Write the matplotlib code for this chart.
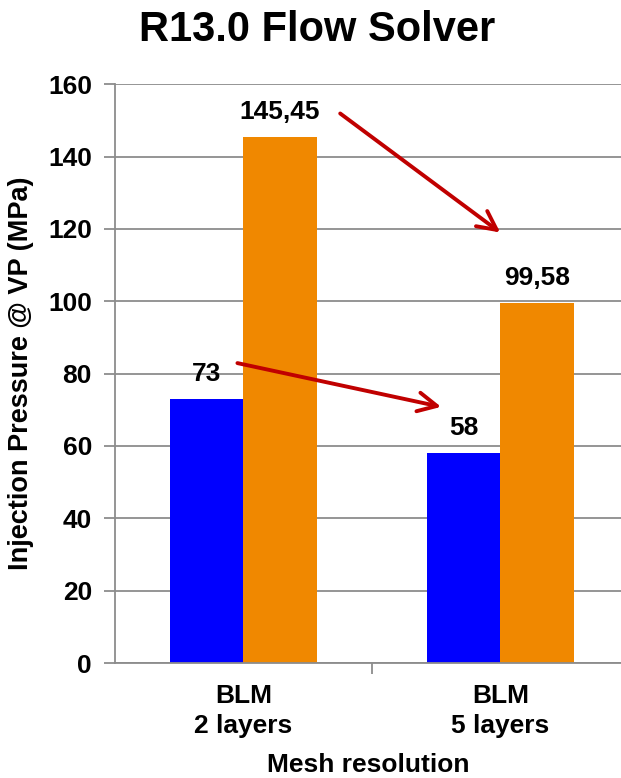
import matplotlib.pyplot as plt
import numpy as np

plt.rcParams['font.family'] = ['Liberation Sans', 'DejaVu Sans']
plt.rcParams['font.weight'] = 'bold'

meshes = ['BLM\n2 layers', 'BLM\n5 layers']
series_a = [73, 58]
series_b = [145.45, 99.58]
labels_a = ['73', '58']
labels_b = ['145,45', '99,58']

fig = plt.figure(figsize=(6.21, 7.78), dpi=100)
ax = fig.add_axes([0.185, 0.1478, 0.815, 0.744])

x = np.arange(len(meshes))
w = 0.286
bars_a = ax.bar(x - w / 2, series_a, w, color='#0000ff', zorder=2)
bars_b = ax.bar(x + w / 2, series_b, w, color='#f08800', zorder=2)

for bars, labels in [(bars_a, labels_a), (bars_b, labels_b)]:
    for b, t in zip(bars, labels):
        ax.annotate(t, (b.get_x() + b.get_width() / 2, b.get_height()),
                    xytext=(0, 13), textcoords='offset points', ha='center',
                    va='baseline', fontsize=19, fontweight='bold')

# trend arrows between the two meshes
arrow = dict(arrowstyle='->', color='#c00000', lw=2.8, mutation_scale=34,
             shrinkA=0, shrinkB=0)
ax.annotate('', xy=(1.0, 119.0), xytext=(0.377, 151.9), arrowprops=arrow)
ax.annotate('', xy=(0.77, 70.8), xytext=(-0.023, 82.9), arrowprops=arrow)

ax.set_ylim(0, 160)
ax.set_xlim(-0.5, 1.47)
ax.set_yticks(np.arange(0, 161, 20))
ax.yaxis.grid(True, color='#8c8c8c', lw=1.3, zorder=0)
ax.set_axisbelow(True)

ax.set_xticks([0.5], minor=True)
ax.set_xticks(x)
ax.set_xticklabels(meshes, fontsize=19, fontweight='bold', linespacing=1.3)
ax.tick_params(axis='x', which='major', length=0, pad=15)
ax.tick_params(axis='x', which='minor', length=8, width=1.3, color='#8c8c8c')
ax.tick_params(axis='y', length=8, width=1.3, color='#8c8c8c', labelsize=19, pad=8.5)
for t in ax.get_yticklabels():
    t.set_fontweight('bold')

for s in ['top', 'right']:
    ax.spines[s].set_visible(False)
for s in ['left', 'bottom']:
    ax.spines[s].set_color('#8c8c8c')
    ax.spines[s].set_linewidth(1.3)

ax.set_xlabel('Mesh resolution', fontsize=19, fontweight='bold', labelpad=11)
ax.set_ylabel('Injection Pressure @ VP (MPa)', fontsize=19.5, fontweight='bold', labelpad=10)
fig.text(0.511, 0.962, 'R13.0 Flow Solver', ha='center', va='center',
         fontsize=30, fontweight='bold')

fig.savefig('out.png', dpi=100)
